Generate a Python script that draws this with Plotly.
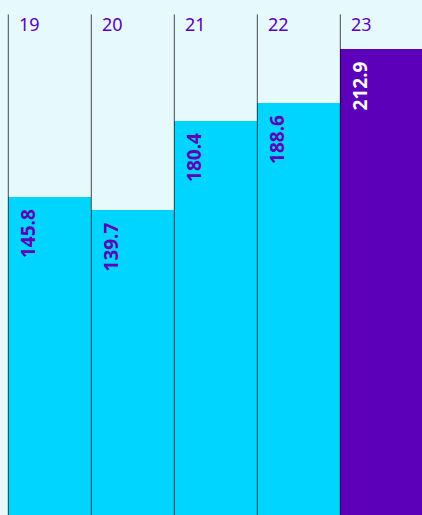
import plotly.graph_objects as go

categories = ["19", "20", "21", "22", "23"]
values = [145.8, 139.7, 180.4, 188.6, 212.9]
value_labels = ["145.8", "139.7", "180.4", "188.6", "212.9"]

CYAN = "#00d5ff"
PURPLE = "#5c00b9"
BG = "#e6f9fd"

bar_colors = [CYAN] * 4 + [PURPLE]
text_colors = [PURPLE] * 4 + ["#ffffff"]

idx = list(range(len(categories)))

fig = go.Figure(go.Bar(
    x=idx,
    y=values,
    marker=dict(color=bar_colors, line=dict(width=0)),
    hoverinfo="skip",
    width=1.0,
))

shapes = []
for i in idx:
    shapes.append(dict(
        type="line", xref="x", yref="paper",
        x0=i - 0.5, x1=i - 0.5, y0=0, y1=0.972,
        line=dict(color="rgba(0,0,0,0.7)", width=1),
        layer="above",
    ))

annotations = []
for i, c in enumerate(categories):
    annotations.append(dict(
        x=i, y=1, xref="x", yref="paper",
        xanchor="left", yanchor="top",
        xshift=-33, yshift=-10,
        text=c, showarrow=False,
        font=dict(family="Noto Sans", size=18, color=PURPLE),
    ))
for i, (v, lab) in enumerate(zip(values, value_labels)):
    annotations.append(dict(
        x=i, y=v, xref="x", yref="y",
        xanchor="center", yanchor="top",
        xshift=-22, yshift=-10,
        text="<b>" + lab + "</b>", textangle=-90, showarrow=False,
        font=dict(family="Noto Sans", size=19, color=text_colors[i]),
    ))

fig.update_layout(
    width=422, height=515,
    margin=dict(l=0, r=0, t=0, b=0),
    paper_bgcolor=BG, plot_bgcolor=BG,
    bargap=0,
    showlegend=False,
    shapes=shapes,
    annotations=annotations,
    xaxis=dict(type="linear", range=[-0.6, 4.484], showticklabels=False, showgrid=False,
               zeroline=False, ticks=""),
    yaxis=dict(range=[1.2, 235.2], showticklabels=False, showgrid=False,
               zeroline=False, ticks=""),
)

fig.write_html(
    "out.html",
    config={"displayModeBar": False},
    post_script="document.body.style.margin='0';document.body.style.background='" + BG + "';",
)
